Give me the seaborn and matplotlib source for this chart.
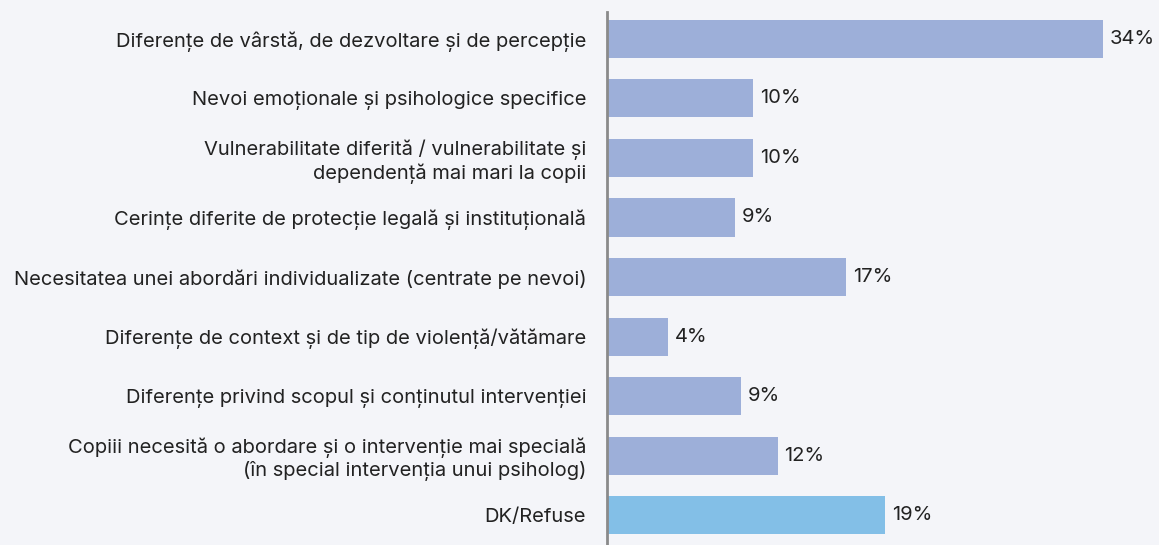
import matplotlib
matplotlib.use("Agg")
import matplotlib.pyplot as plt
import seaborn as sns
import pandas as pd

categories = [
    "Diferențe de vârstă, de dezvoltare și de percepție",
    "Nevoi emoționale și psihologice specifice",
    "Vulnerabilitate diferită / vulnerabilitate și\ndependență mai mari la copii",
    "Cerințe diferite de protecție legală și instituțională",
    "Necesitatea unei abordări individualizate (centrate pe nevoi)",
    "Diferențe de context și de tip de violență/vătămare",
    "Diferențe privind scopul și conținutul intervenției",
    "Copiii necesită o abordare și o intervenție mai specială\n(în special intervenția unui psiholog)",
    "DK/Refuse",
]
values = [34.0, 10.0, 10.0, 8.8, 16.4, 4.2, 9.2, 11.7, 19.1]
value_labels = ["34%", "10%", "10%", "9%", "17%", "4%", "9%", "12%", "19%"]

BG = "#f4f5f9"
BAR = "#9dafd9"
DK = "#83bfe7"
colors = [BAR] * 8 + [DK]

sns.set_theme(style="white")
plt.rcParams["font.family"] = ["Inter", "DejaVu Sans"]

df = pd.DataFrame({"cat": categories, "val": values})

fig = plt.figure(figsize=(11.59, 5.45), dpi=100, facecolor=BG)
ax = fig.add_axes([607 / 1159, 0.0, 1 - 607 / 1159, 533 / 545])
ax.set_facecolor(BG)

sns.barplot(data=df, y="cat", x="val", hue="cat", palette=colors, legend=False,
            orient="h", width=0.64, saturation=1, linewidth=0, ax=ax)

ax.set_xlim(0, (1159 - 607) / 14.58)
ax.set_ylim(8.5, -0.45)
ax.set_xlabel("")
ax.set_ylabel("")
ax.set_xticks([])
for s in ["top", "right", "bottom"]:
    ax.spines[s].set_visible(False)
ax.spines["left"].set_color("#8a8a8a")
ax.spines["left"].set_linewidth(2)
ax.tick_params(axis="y", length=0, pad=15, labelsize=14.5, labelcolor="#222222")

for i, (v, lab) in enumerate(zip(values, value_labels)):
    ax.annotate(lab, (v, i), xytext=(5, 0), textcoords="offset points",
                va="center", ha="left", fontsize=14.5, color="#222222")

fig.savefig("out.png", dpi=100, facecolor=BG)
